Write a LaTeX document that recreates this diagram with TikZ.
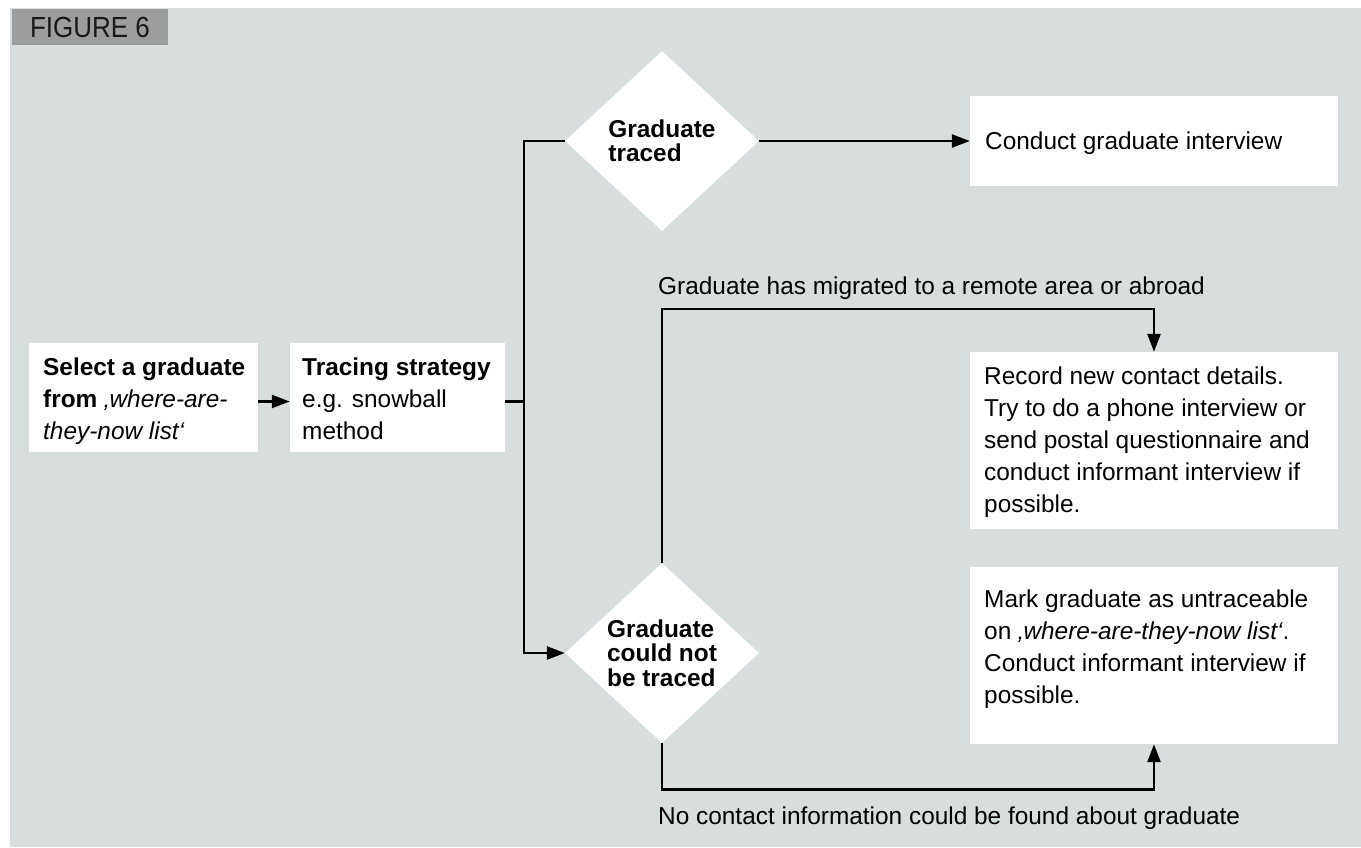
\documentclass[tikz,border=0pt]{standalone}
\usepackage{fontspec}
\setmainfont{Liberation Sans}
\usetikzlibrary{shapes.geometric,arrows.meta}
\definecolor{panel}{HTML}{D8DEDE}
\definecolor{tagfill}{HTML}{9C9D9F}
\begin{document}
\begin{tikzpicture}[x=1pt,y=-1pt,
  box/.style={rectangle,fill=white,inner sep=0pt},
  decision/.style={diamond,fill=white,inner sep=0pt,minimum width=194pt,
    minimum height=180pt,align=left,font=\fontsize{24.4}{24.3}\selectfont\bfseries},
  body/.style={inner sep=0pt,anchor=north west,align=left,
    font=\fontsize{24.4}{31.8}\selectfont},
  link/.style={line width=2.6pt},
  arr/.style={link,-{Triangle[length=18pt,width=13pt]}}]

% canvas and grey panel
\useasboundingbox (0,0) rectangle (1361,847);
\fill[white] (0,0) rectangle (1361,847);
\fill[panel] (10,8) rectangle (1361,847);

% figure tag
\node[fill=tagfill,minimum width=156pt,minimum height=36pt,inner sep=0pt,
  font=\fontsize{26}{26}\selectfont,text=black!90] (fig) at (90,27)
  {\scalebox{1}[1.12]{FIGURE 6}};

% boxes
\node[box,minimum width=229pt,minimum height=109pt] (sel) at (143.5,397.5) {};
\node[box,minimum width=215pt,minimum height=109pt] (trace) at (397.5,397.5) {};
\node[box,minimum width=368pt,minimum height=90pt] (conduct) at (1154,141) {};
\node[box,minimum width=368pt,minimum height=177pt] (record) at (1154,440.5) {};
\node[box,minimum width=368pt,minimum height=177pt] (mark) at (1154,655.5) {};

% box texts
\node[body] (seltext) at (43,358)
  {\textbf{Select a graduate}\\\textbf{from} \textit{‚where-are-}\\\textit{they-now list‘}};
\node[body] (tracetext) at (302,358)
  {\textbf{Tracing strategy}\\e.g. snowball\\method};
\node[body] (conducttext) at (985,132) {Conduct graduate interview};
\node[body] (recordtext) at (984,367)
  {Record new contact details.\\Try to do a phone interview or\\send postal questionnaire and\\conduct informant interview if\\possible.};
\node[body] (marktext) at (984,590)
  {Mark graduate as untraceable\\on \textit{‚where-are-they-now list‘}.\\Conduct informant interview if\\possible.};

% decisions
\node[decision] (d1) at (662,141) {Graduate\\traced};
\node[decision] (d2) at (662,653) {Graduate\\could not\\be traced};

% path labels
\node[body] (migr) at (658,277) {Graduate has migrated to a remote area or abroad};
\node[body] (nofound) at (658,807) {No contact information could be found about graduate};

% connectors
\coordinate (split) at (524,401.5);
\draw[arr] ([yshift=-4pt]sel.east) -- ([yshift=-4pt]trace.west);
\draw[link] ([yshift=-4pt]trace.east) -- (split);
\draw[arr] (d1.west) -| (split) |- (d2.west);
\draw[arr] (d1.east) -- (conduct.west);
\draw[arr] (d2.north) |- ([yshift=43pt]record.north) -- (record.north);
\draw[arr] (d2.south) |- ([yshift=-45pt]mark.south) -- (mark.south);
\end{tikzpicture}
\end{document}
